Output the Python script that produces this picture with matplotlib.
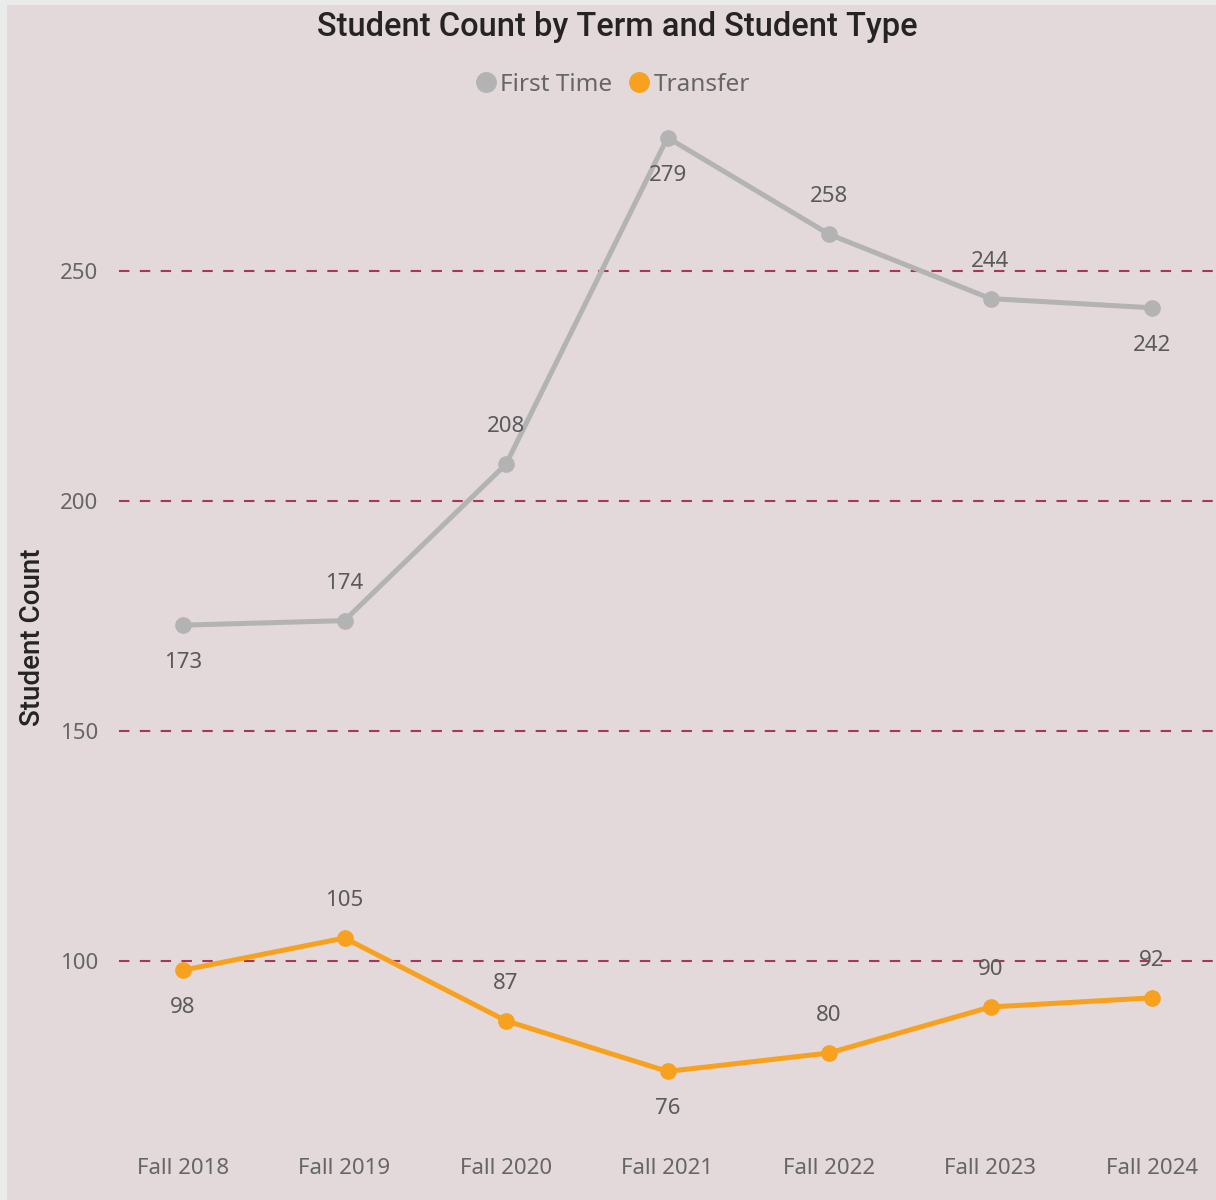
import matplotlib
matplotlib.use("Agg")
import matplotlib.pyplot as plt
from matplotlib.patches import Rectangle
from matplotlib.lines import Line2D

terms = ["Fall 2018", "Fall 2019", "Fall 2020", "Fall 2021", "Fall 2022", "Fall 2023", "Fall 2024"]
first_time = [173, 174, 208, 279, 258, 244, 242]
transfer = [98, 105, 87, 76, 80, 90, 92]
first_time_label_pos = ["below", "above", "above", "below", "above", "above", "below"]
transfer_label_pos = ["below", "above", "above", "below", "above", "above", "above"]
yticks = [100, 150, 200, 250]

BG = "#E3D8DA"
BORDER = "#EAECEB"
GRAY = "#B3B3B3"
ORANGE = "#F8A11E"
GRID = "#A5375E"
TXT = "#666666"
LBL = "#5A5A5A"

W, H = 1216, 1200
fig = plt.figure(figsize=(W / 100, H / 100), dpi=100)
fig.patch.set_facecolor(BG)
fig.patches.append(Rectangle((0, 0), 7 / W, 1, transform=fig.transFigure,
                             facecolor=BORDER, edgecolor="none", zorder=-10))
fig.patches.append(Rectangle((0, 1 - 5 / H), 1, 5 / H, transform=fig.transFigure,
                             facecolor=BORDER, edgecolor="none", zorder=-10))

ax_left, ax_right = 119, 1216
ax_top, ax_bot = 120, 1130
ax = fig.add_axes([ax_left / W, 1 - ax_bot / H, (ax_right - ax_left) / W, (ax_bot - ax_top) / H])
ax.set_facecolor("none")

x = list(range(len(terms)))
ax.plot(x, first_time, color=GRAY, lw=3.6, marker="o", ms=11, zorder=3, solid_capstyle="round")
ax.plot(x, transfer, color=ORANGE, lw=3.6, marker="o", ms=11, zorder=3, solid_capstyle="round")

def labels(vals, pos):
    for xi, v, p in zip(x, vals, pos):
        off = 27 if p == "above" else -27
        ax.annotate(str(v), (xi, v), xytext=(0, off), textcoords="offset points",
                    ha="center", va="center", fontsize=16, color=LBL, family="Noto Sans", zorder=4)

labels(first_time, first_time_label_pos)
labels(transfer, transfer_label_pos)

# y scale: 4.6 px per unit, 250 at px 271
ppu = 4.6
ax.set_ylim(100 - (ax_bot - 961) / ppu, 250 + (271 - ax_top) / ppu)
sp = 161.5
ax.set_xlim(-(183 - ax_left) / sp, 6 + (ax_right - 1152) / sp)

ax.set_yticks(yticks)
ax.set_xticks(x)
ax.set_xticklabels(terms)
ax.tick_params(length=0, labelsize=16, labelcolor=TXT)
ax.tick_params(axis="x", pad=20)
ax.tick_params(axis="y", pad=15)
for lab in ax.get_xticklabels() + ax.get_yticklabels():
    lab.set_family("Noto Sans")
for s in ax.spines.values():
    s.set_visible(False)
ax.grid(axis="y", color=GRID, lw=1.5, linestyle=(0, (5, 5)), zorder=1)
ax.grid(axis="x", visible=False)

fig.text(617 / W, 1 - 27 / H, "Student Count by Term and Student Type", ha="center", va="center",
         fontsize=23.5, fontweight="medium", color="#252423", family="Roboto")
fig.text(33 / W, 1 - 637 / H, "Student Count", rotation=90, ha="center", va="center",
         fontsize=20, fontweight="medium", color="#252423", family="Roboto")

handles = [Line2D([], [], color=GRAY, marker="o", ms=14, lw=0),
           Line2D([], [], color=ORANGE, marker="o", ms=14, lw=0)]
leg = fig.legend(handles, ["First Time", "Transfer"], loc="center", bbox_to_anchor=(612 / W, 1 - 85 / H),
                 ncol=2, frameon=False, handletextpad=0.1, columnspacing=0.6, handlelength=1.0,
                 prop={"family": "Noto Sans", "size": 17.5})
for t in leg.get_texts():
    t.set_color(TXT)

fig.savefig("out.png", dpi=100, facecolor=fig.get_facecolor())
